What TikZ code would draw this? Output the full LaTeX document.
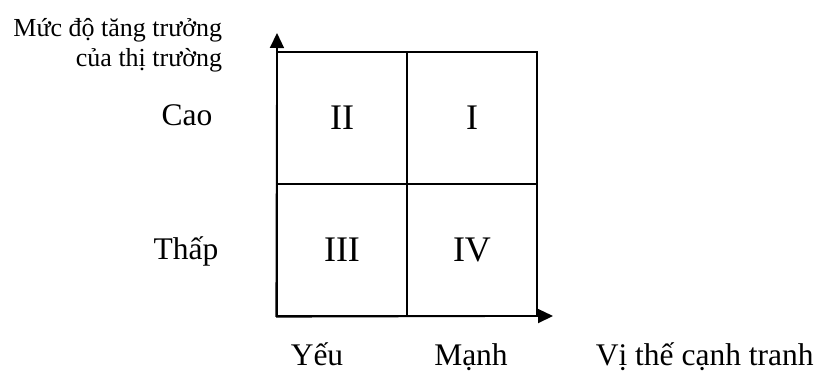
\documentclass[tikz,border=0pt]{standalone}
\usepackage{fontspec}
\setmainfont{Liberation Serif}
\usetikzlibrary{arrows.meta}
\begin{document}
\begin{tikzpicture}[x=1pt, y=-1pt, line width=1.6pt, >={Triangle[length=15pt,width=14pt]},
        cell/.style={draw, minimum width=130pt, minimum height=132pt, inner sep=0pt, font=\fontsize{36}{40}\selectfont},
        lbl/.style={inner sep=0pt, anchor=base, font=\fontsize{31.5}{36}\selectfont}]
        \useasboundingbox (0, 0) rectangle (817, 372);
        % quadrants
        \node[cell] (II) at (342, 118) {II};
        \node[cell] (I) at (472, 118) {I};
        \node[cell] (III) at (342, 250) {III};
        \node[cell] (IV) at (472, 250) {IV};
        % axes
        \coordinate (o) at (III.south west);
        \coordinate (ytip) at (277, 33);
        \coordinate (xtip) at (553, 316);
        \draw[->] (o) -- (ytip);
        \draw[->] (o) -- (xtip);
        % labels
        \node[inner sep=0pt, anchor=north east, align=right, font=\fontsize{26}{30}\selectfont] (growth) at (223, 18) {Mức độ tăng trưởng\\của thị trường};
        \node[lbl] (high) at (187, 125) {Cao};
        \node[lbl] (low) at (186, 259) {Thấp};
        \node[lbl] (weak) at (317, 365) {Yếu};
        \node[lbl] (strong) at (471, 365) {Mạnh};
        \node[lbl, anchor=base west] (position) at (595, 365) {Vị thế cạnh tranh};
\end{tikzpicture}
\end{document}
